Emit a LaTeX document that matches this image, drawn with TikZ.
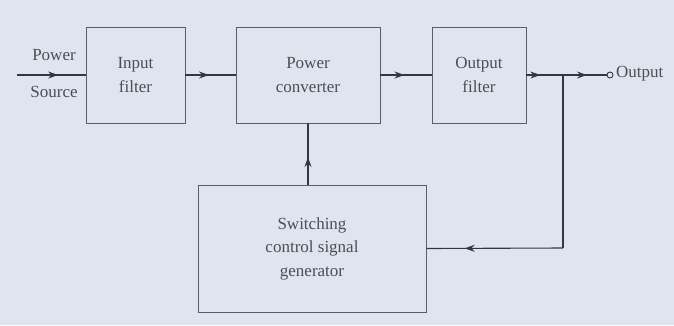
\documentclass[tikz,border=0pt]{standalone}
\usepackage{fontspec}
\setmainfont{Liberation Serif}
\usetikzlibrary{arrows.meta,decorations.markings}
\definecolor{bg}{HTML}{DFE5EE}
\definecolor{ln}{HTML}{333840}
\definecolor{bx}{HTML}{5A5F66}
\definecolor{tx}{HTML}{4A4E55}
\tikzset{
  blk/.style={draw=bx, line width=0.9pt, fill=none, align=center, text=tx, font=\fontsize{17}{23.5}\selectfont, inner sep=0pt},
  lbl/.style={text=tx, font=\fontsize{17}{23}\selectfont, inner sep=0pt},
  wire/.style={draw=ln, line width=1.1pt},
  midarr/.style={postaction={decorate}, decoration={markings, mark=at position #1 with {\arrow[ln]{Stealth[length=10pt,width=7pt]}}}}
}
\begin{document}
\begin{tikzpicture}[x=1pt,y=-1pt]
\fill[bg] (0,0) rectangle (674,325);
\useasboundingbox (0,0) rectangle (674,325);
\node[blk, minimum width=99pt, minimum height=96pt] (inf) at (135.5,75) {Input\\filter};
\node[blk, minimum width=144pt, minimum height=96pt] (conv) at (308,75) {Power\\converter};
\node[blk, minimum width=94pt, minimum height=96pt] (outf) at (479,75) {Output\\filter};
\node[blk, minimum width=228pt, minimum height=127pt] (sw) at (312,248.5) {Switching\\control signal\\generator};
\coordinate (src) at (17,75);
\node[lbl] (pw) at (54,55) {Power};
\node[lbl] (so) at (54,92) {Source};
\coordinate (j) at (563,75);
\node[draw=ln, line width=0.9pt, circle, minimum size=6pt, inner sep=0pt] (oc) at (610,75) {};
\node[lbl, anchor=west] (ol) at (616,74) {Output};
\coordinate (fb) at (563,248);
\draw[wire, midarr=0.6] (src) -- (inf.west);
\draw[wire, midarr=0.47] (inf.east) -- (conv.west);
\draw[wire, midarr=0.47] (conv.east) -- (outf.west);
\draw[wire, midarr=0.38] (outf.east) -- (j);
\draw[wire, midarr=0.55] (j) -- (oc.west);
\draw[wire] (j) -- (fb);
\draw[wire, midarr=0.72] (fb) -- (sw.east);
\draw[wire, midarr=0.45] (sw.north -| conv.south) -- (conv.south);
\end{tikzpicture}
\end{document}
